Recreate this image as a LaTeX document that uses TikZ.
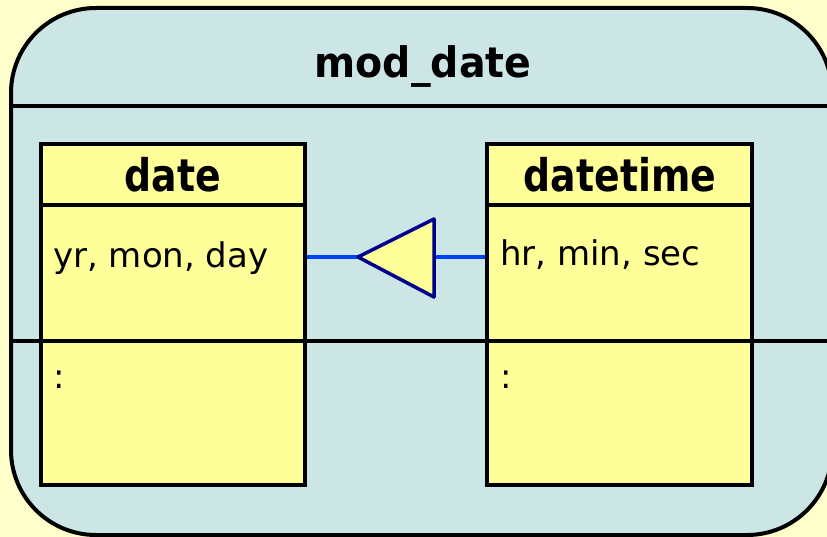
\documentclass[tikz,border=0pt]{standalone}
\usepackage{fontspec}
\setmainfont{DejaVu Sans}
\newfontfamily\headfont{DejaVu Sans}[FakeStretch=0.84]
\newfontfamily\titlefont{DejaVu Sans}[FakeStretch=0.94]
\definecolor{pagebg}{RGB}{255,255,204}
\definecolor{pkgfill}{RGB}{204,229,229}
\definecolor{classfill}{RGB}{255,255,153}
\definecolor{linkblue}{RGB}{0,64,255}
\definecolor{navy}{RGB}{0,0,140}
\tikzset{
  outline/.style={draw=black, line width=4pt},
  pkgbox/.style={outline, fill=pkgfill, rounded corners=85pt, inner sep=0pt},
  classbox/.style={outline, fill=classfill, inner sep=0pt},
  titletext/.style={font=\titlefont\fontsize{42}{50}\selectfont\bfseries, inner sep=0pt, anchor=base},
  headtext/.style={font=\headfont\fontsize{45}{54}\selectfont\bfseries, inner sep=0pt, anchor=base},
  attrtext/.style={font=\fontsize{34}{41}\selectfont, inner sep=0pt, anchor=base west},
  link/.style={draw=linkblue, line width=3.5pt},
  inherit/.style={draw=navy, fill=classfill, line width=3.5pt, line join=round}
}
\begin{document}
\begin{tikzpicture}[x=1pt,y=-1pt]
  \useasboundingbox (0,0) rectangle (827,537);
  \fill[pagebg] (0,0) rectangle (827,537);
  \clip (0,0) rectangle (827,537);

  % package frame with its title compartment
  \node[pkgbox, minimum width=821pt, minimum height=527pt] (pkg) at (421.5,271.5) {};
  \node[titletext] (pkgname) at (423,78) {mod\_date};
  \draw[outline] (pkg.west |- 0,106) -- (pkg.east |- 0,106);

  % the two classes
  \node[classbox, minimum width=264pt, minimum height=341pt] (date) at (173,314.5) {};
  \node[classbox, minimum width=265pt, minimum height=341pt] (datetime) at (619.5,314.5) {};
  \draw[outline] (date.west |- 0,205) -- (date.east |- 0,205);
  \draw[outline] (datetime.west |- 0,205) -- (datetime.east |- 0,205);

  \node[headtext] (datename) at (173,192) {date};
  \node[headtext] (datetimename) at (620,192) {datetime};
  \node[attrtext] (dateattr) at (53,268) {yr, mon, day};
  \node[attrtext] (datetimeattr) at (500,266) {hr, min, sec};
  \node[attrtext] (dateops) at (53,388) {:};
  \node[attrtext] (datetimeops) at (500,388) {:};

  % operations separator runs across the whole package
  \draw[outline] (pkg.west |- 0,341) -- (pkg.east |- 0,341);

  % generalization: datetime inherits from date
  \coordinate (tip) at (358,257);
  \coordinate (base) at (434,257);
  \draw[link] (date.east |- tip) -- (tip);
  \draw[link] (base) -- (datetime.west |- base);
  \draw[inherit] (tip) -- (434,219) -- (434,297) -- cycle;
\end{tikzpicture}
\end{document}
